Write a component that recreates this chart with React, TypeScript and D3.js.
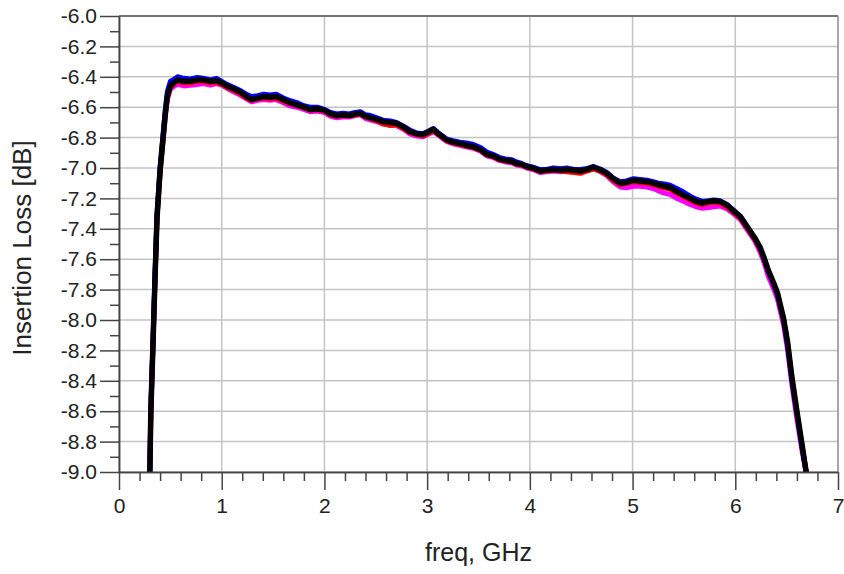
import { useEffect, useRef } from "react";
import * as d3 from "d3";

const WIDTH = 844;
const HEIGHT = 574;
const MARGIN = { top: 16, right: 6, bottom: 102, left: 119 };
const FONT = "'Liberation Sans', Arial, sans-serif";

// frequency points, GHz
const freq = [
  0.30, 0.31, 0.33, 0.35, 0.37, 0.40, 0.43, 0.45, 0.47, 0.50,
  0.53, 0.57, 0.63, 0.69, 0.76, 0.82, 0.89, 0.95, 1.00, 1.05,
  1.12, 1.18, 1.24, 1.29, 1.35, 1.41, 1.47, 1.53, 1.60, 1.66,
  1.73, 1.80, 1.86, 1.93, 2.00, 2.06, 2.12, 2.18, 2.24, 2.30,
  2.35, 2.40, 2.45, 2.51, 2.57, 2.64, 2.70, 2.77, 2.83, 2.90,
  2.96, 3.02, 3.06, 3.12, 3.19, 3.25, 3.32, 3.38, 3.45, 3.52,
  3.58, 3.64, 3.70, 3.76, 3.82, 3.87, 3.92, 3.97, 4.03, 4.10,
  4.16, 4.23, 4.30, 4.36, 4.43, 4.49, 4.55, 4.62, 4.68, 4.75,
  4.81, 4.88, 4.94, 5.01, 5.07, 5.14, 5.20, 5.25, 5.31, 5.37,
  5.43, 5.50, 5.56, 5.62, 5.68, 5.74, 5.79, 5.85, 5.92, 5.98,
  6.05, 6.10, 6.14, 6.19, 6.24, 6.28, 6.32, 6.37, 6.41, 6.47,
  6.51, 6.55, 6.60, 6.65, 6.69,
];

// insertion loss traces, dB
const lossMagenta = [
  -9.00, -8.60, -8.18, -7.74, -7.33, -7.02, -6.81, -6.66, -6.55, -6.48,
  -6.465, -6.45, -6.46, -6.455, -6.45, -6.445, -6.455, -6.445, -6.455, -6.475,
  -6.50, -6.52, -6.545, -6.565, -6.555, -6.55, -6.555, -6.55, -6.57, -6.59,
  -6.60, -6.615, -6.63, -6.625, -6.635, -6.66, -6.67, -6.665, -6.665, -6.655,
  -6.65, -6.675, -6.685, -6.695, -6.71, -6.715, -6.72, -6.745, -6.775, -6.79,
  -6.795, -6.775, -6.76, -6.79, -6.825, -6.84, -6.85, -6.86, -6.87, -6.89,
  -6.92, -6.93, -6.95, -6.96, -6.965, -6.98, -6.985, -7.00, -7.01, -7.03,
  -7.025, -7.02, -7.025, -7.02, -7.025, -7.03, -7.02, -7.005, -7.02, -7.05,
  -7.09, -7.125, -7.13, -7.12, -7.12, -7.125, -7.135, -7.15, -7.165, -7.175,
  -7.20, -7.22, -7.24, -7.255, -7.265, -7.26, -7.255, -7.25, -7.27, -7.30,
  -7.34, -7.39, -7.43, -7.48, -7.55, -7.62, -7.71, -7.79, -7.86, -8.03,
  -8.20, -8.42, -8.65, -8.86, -9.00,
];

const lossRed = [
  -9.00, -8.60, -8.18, -7.74, -7.33, -7.02, -6.80, -6.65, -6.54, -6.47,
  -6.45, -6.43, -6.44, -6.44, -6.43, -6.43, -6.44, -6.435, -6.45, -6.47,
  -6.49, -6.51, -6.54, -6.555, -6.545, -6.54, -6.545, -6.54, -6.56, -6.575,
  -6.59, -6.605, -6.62, -6.615, -6.625, -6.65, -6.66, -6.655, -6.66, -6.65,
  -6.645, -6.665, -6.675, -6.69, -6.71, -6.72, -6.715, -6.74, -6.765, -6.78,
  -6.79, -6.77, -6.755, -6.785, -6.82, -6.835, -6.845, -6.855, -6.865, -6.885,
  -6.915, -6.925, -6.945, -6.955, -6.96, -6.975, -6.98, -6.995, -7.005, -7.025,
  -7.02, -7.015, -7.02, -7.025, -7.03, -7.035, -7.02, -7.005, -7.02, -7.045,
  -7.08, -7.11, -7.10, -7.09, -7.095, -7.10, -7.11, -7.12, -7.13, -7.14,
  -7.165, -7.19, -7.21, -7.23, -7.24, -7.23, -7.225, -7.23, -7.255, -7.29,
  -7.33, -7.38, -7.42, -7.47, -7.53, -7.60, -7.68, -7.76, -7.83, -8.00,
  -8.16, -8.38, -8.61, -8.83, -9.00,
];

const lossBlue = [
  -9.00, -8.59, -8.16, -7.72, -7.30, -6.99, -6.77, -6.62, -6.50, -6.43,
  -6.42, -6.40, -6.41, -6.415, -6.405, -6.41, -6.42, -6.41, -6.43, -6.45,
  -6.47, -6.49, -6.515, -6.53, -6.525, -6.515, -6.52, -6.515, -6.54, -6.555,
  -6.57, -6.59, -6.60, -6.60, -6.615, -6.635, -6.645, -6.64, -6.645, -6.635,
  -6.63, -6.65, -6.655, -6.67, -6.685, -6.69, -6.70, -6.725, -6.75, -6.77,
  -6.775, -6.755, -6.74, -6.775, -6.81, -6.82, -6.83, -6.835, -6.845, -6.865,
  -6.895, -6.91, -6.93, -6.94, -6.945, -6.96, -6.97, -6.985, -6.995, -7.01,
  -7.01, -7.00, -7.005, -7.00, -7.01, -7.01, -7.005, -6.99, -7.005, -7.03,
  -7.065, -7.09, -7.085, -7.07, -7.075, -7.08, -7.09, -7.10, -7.105, -7.115,
  -7.135, -7.16, -7.185, -7.205, -7.22, -7.215, -7.21, -7.215, -7.24, -7.275,
  -7.32, -7.37, -7.41, -7.46, -7.525, -7.595, -7.68, -7.76, -7.83, -8.00,
  -8.17, -8.39, -8.62, -8.84, -9.00,
];

const lossBlack = [
  -9.00, -8.60, -8.18, -7.74, -7.33, -7.02, -6.80, -6.65, -6.53, -6.46,
  -6.44, -6.42, -6.43, -6.43, -6.42, -6.42, -6.43, -6.425, -6.44, -6.46,
  -6.48, -6.50, -6.53, -6.55, -6.54, -6.53, -6.535, -6.53, -6.55, -6.57,
  -6.585, -6.60, -6.615, -6.61, -6.62, -6.645, -6.655, -6.65, -6.655, -6.645,
  -6.64, -6.66, -6.67, -6.68, -6.695, -6.70, -6.705, -6.73, -6.76, -6.775,
  -6.78, -6.76, -6.745, -6.78, -6.815, -6.83, -6.84, -6.85, -6.86, -6.88,
  -6.91, -6.92, -6.94, -6.95, -6.955, -6.97, -6.975, -6.99, -7.00, -7.02,
  -7.015, -7.01, -7.015, -7.01, -7.015, -7.02, -7.01, -6.995, -7.01, -7.035,
  -7.07, -7.10, -7.095, -7.08, -7.085, -7.09, -7.10, -7.11, -7.12, -7.13,
  -7.155, -7.18, -7.20, -7.22, -7.23, -7.22, -7.215, -7.22, -7.245, -7.28,
  -7.32, -7.37, -7.41, -7.46, -7.52, -7.59, -7.67, -7.75, -7.82, -7.99,
  -8.15, -8.37, -8.60, -8.82, -9.00,
];

const traces = [
  { color: "#ff00ff", values: lossMagenta, width: 5 },
  { color: "#ff0000", values: lossRed, width: 5 },
  { color: "#0000ff", values: lossBlue, width: 5 },
  { color: "#000000", values: lossBlack, width: 5.5 },
];

const xMajor = [0, 1, 2, 3, 4, 5, 6, 7];
const yMajor = [-6.0, -6.2, -6.4, -6.6, -6.8, -7.0, -7.2, -7.4, -7.6, -7.8, -8.0, -8.2, -8.4, -8.6, -8.8, -9.0];

export default function App() {
  const svgRef = useRef<SVGSVGElement | null>(null);

  useEffect(() => {
    if (!svgRef.current) return;
    const svg = d3.select(svgRef.current);
    svg.selectAll("*").remove();

    const innerWidth = WIDTH - MARGIN.left - MARGIN.right;
    const innerHeight = HEIGHT - MARGIN.top - MARGIN.bottom;

    const x = d3.scaleLinear().domain([0, 7]).range([0, innerWidth]);
    const y = d3.scaleLinear().domain([-9, -6]).range([innerHeight, 0]);

    const xMinor = d3.range(0, 35).map((i) => i * 0.2).filter((v) => Math.abs(v - Math.round(v)) > 0.01);
    const yMinor = yMajor.slice(0, -1).map((v) => v - 0.1);

    svg.append("rect").attr("width", WIDTH).attr("height", HEIGHT).attr("fill", "#fff");

    svg.append("defs")
      .append("clipPath")
      .attr("id", "plot-clip")
      .append("rect")
      .attr("width", innerWidth)
      .attr("height", innerHeight);

    const g = svg.append("g").attr("transform", `translate(${MARGIN.left},${MARGIN.top})`);

    // grid
    g.append("g")
      .selectAll("line")
      .data(yMajor)
      .enter()
      .append("line")
      .attr("x1", 0)
      .attr("x2", innerWidth)
      .attr("y1", (d) => y(d))
      .attr("y2", (d) => y(d))
      .attr("stroke", "#c4c4c4")
      .attr("stroke-width", 1.5);

    g.append("g")
      .selectAll("line")
      .data(xMajor)
      .enter()
      .append("line")
      .attr("x1", (d) => x(d))
      .attr("x2", (d) => x(d))
      .attr("y1", 0)
      .attr("y2", innerHeight)
      .attr("stroke", "#c4c4c4")
      .attr("stroke-width", 1.5);

    // traces
    const line = d3
      .line<number>()
      .x((_, i) => x(freq[i]))
      .y((d) => y(d));

    const traceG = g.append("g").attr("clip-path", "url(#plot-clip)");
    traces.forEach((t) => {
      traceG
        .append("path")
        .datum(t.values)
        .attr("d", line)
        .attr("fill", "none")
        .attr("stroke", t.color)
        .attr("stroke-width", t.width)
        .attr("stroke-linejoin", "round")
        .attr("stroke-linecap", "round");
    });

    // frame top/right
    g.append("line").attr("x1", 0).attr("x2", innerWidth).attr("y1", 0).attr("y2", 0)
      .attr("stroke", "#555").attr("stroke-width", 1.5);
    g.append("line").attr("x1", innerWidth).attr("x2", innerWidth).attr("y1", 0).attr("y2", innerHeight)
      .attr("stroke", "#999").attr("stroke-width", 1.5);

    const styleAxis = (axisG: any) => {
      axisG.select(".domain").attr("stroke", "#444").attr("stroke-width", 1.5);
      axisG.selectAll(".tick line").attr("stroke", "#444").attr("stroke-width", 1.5);
      axisG.selectAll("text")
        .attr("fill", "#222")
        .style("font-family", FONT)
        .style("font-size", "21px");
    };

    // x axis
    g.append("g")
      .attr("transform", `translate(0,${innerHeight})`)
      .call(d3.axisBottom(x).tickValues(xMinor).tickSize(9).tickFormat(() => "").tickSizeOuter(0))
      .call(styleAxis);
    g.append("g")
      .attr("transform", `translate(0,${innerHeight})`)
      .call(d3.axisBottom(x).tickValues(xMajor).tickSize(18).tickPadding(8).tickFormat((v: any) => `${v}`).tickSizeOuter(0))
      .call(styleAxis);

    // y axis
    g.append("g")
      .call(d3.axisLeft(y).tickValues(yMinor).tickSize(9).tickFormat(() => "").tickSizeOuter(0))
      .call(styleAxis);
    g.append("g")
      .call(d3.axisLeft(y).tickValues(yMajor).tickSize(19).tickPadding(3).tickFormat((v: any) => Number(v).toFixed(1)).tickSizeOuter(0))
      .call(styleAxis);

    // titles
    svg.append("text")
      .attr("x", MARGIN.left + innerWidth / 2)
      .attr("y", 561)
      .attr("text-anchor", "middle")
      .attr("fill", "#222")
      .style("font-family", FONT)
      .style("font-size", "25px")
      .text("freq, GHz");

    svg.append("text")
      .attr("transform", `translate(31,${MARGIN.top + innerHeight / 2 + 4}) rotate(-90)`)
      .attr("text-anchor", "middle")
      .attr("fill", "#222")
      .style("font-family", FONT)
      .style("font-size", "26px")
      .text("Insertion Loss [dB]");
  }, []);

  return (
    <svg
      ref={svgRef}
      width={WIDTH}
      height={HEIGHT}
      style={{ position: "absolute", left: 0, top: 0, display: "block" }}
    />
  );
}
